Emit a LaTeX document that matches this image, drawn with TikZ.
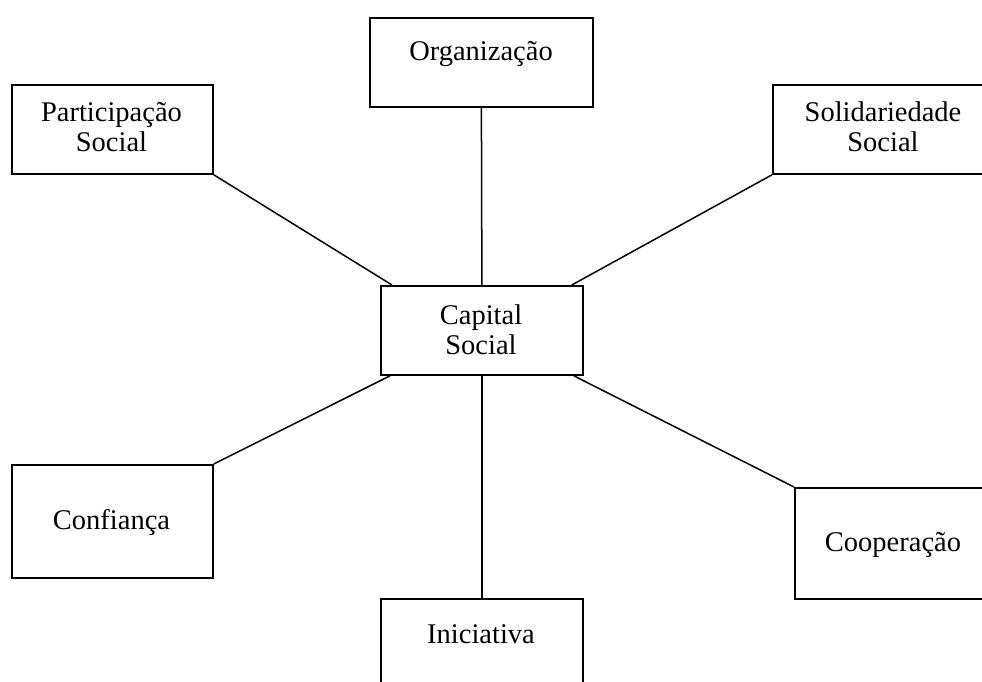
\documentclass[tikz,border=0pt]{standalone}
\usepackage{fontspec}
\setmainfont{Liberation Serif}
\begin{document}
\begin{tikzpicture}[x=1pt,y=-1pt,
  box/.style={draw,line width=1.8pt,rectangle,inner sep=0pt,anchor=north west},
  lbl/.style={font=\fontsize{28.5}{30}\selectfont,align=center,inner sep=0pt},
  conn/.style={line width=1.5pt}]
\clip (0,0) rectangle (982,682);
\fill[white] (0,0) rectangle (982,682);
% boxes
\node[box,minimum width=223pt,minimum height=89pt] (org) at (369,17) {};
\node[box,minimum width=201pt,minimum height=89pt] (part) at (11,84) {};
\node[box,minimum width=222pt,minimum height=89pt] (sol) at (772,84) {};
\node[box,minimum width=202pt,minimum height=89pt] (cap) at (380,285) {};
\node[box,minimum width=201pt,minimum height=113pt] (conf) at (11,464) {};
\node[box,minimum width=198pt,minimum height=111pt] (coop) at (794,487) {};
\node[box,minimum width=202pt,minimum height=100pt] (ini) at (380,598) {};
% texts
\node[lbl] (torg) at (481,54) {Organização};
\node[lbl] (tpart) at (111.5,127) {Participação\\Social};
\node[lbl] (tsol) at (883,127) {Solidariedade\\Social};
\node[lbl] (tcap) at (481,330) {Capital\\Social};
\node[lbl] (tconf) at (111.5,522) {Confiança};
\node[lbl] (tcoop) at (893,545) {Cooperação};
\node[lbl] (tini) at (481,634) {Iniciativa};
% connectors
\draw[conn] (org.south) -- (cap.north);
\draw[conn] (part.south east) -- ([xshift=12pt]cap.north west);
\draw[conn] (sol.south west) -- ([xshift=-12pt]cap.north east);
\draw[conn] ([xshift=10pt]cap.south west) -- (conf.north east);
\draw[conn] ([xshift=-10pt]cap.south east) -- (coop.north west);
\draw[conn] (cap.south) -- (ini.north);
\end{tikzpicture}
\end{document}
